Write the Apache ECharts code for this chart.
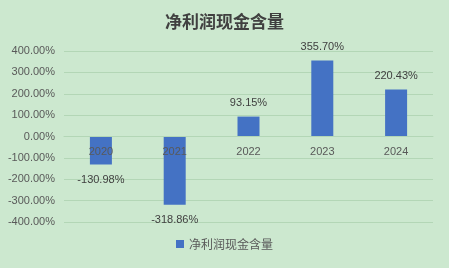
<!DOCTYPE html>
<html><head><meta charset="utf-8">
<script src="https://cdn.jsdelivr.net/npm/echarts@6/dist/echarts.min.js"></script>
<style>html,body{margin:0;padding:0;background:#cce8cf;}#c{width:449px;height:268px;}</style>
</head><body><div id="c"></div>
<script>
const categories = ['2020','2021','2022','2023','2024'];
const values = [-130.98, -318.86, 93.15, 355.70, 220.43];
const seriesName = '净利润现金含量';
const titleText = '净利润现金含量';

const gridTop = 51, gridBottom = 46, H = 268;
const plotH = H - gridTop - gridBottom;

const chart = echarts.init(document.getElementById('c'));
chart.setOption({
  backgroundColor: '#cce8cf',
  animation: false,
  title: {
    text: titleText, left: 'center', top: 8,
    textStyle: {fontFamily: '"Noto Sans CJK SC"', fontWeight: 'bold', fontSize: 17, color: '#404040'}
  },
  legend: {
    bottom: 13, left: 'center', icon: 'rect', itemWidth: 8, itemHeight: 8, itemGap: 4,
    textStyle: {fontFamily: '"Noto Sans CJK SC"', fontSize: 12, color: '#595959'},
    data: [seriesName]
  },
  grid: {left: 64, right: 16, top: gridTop, bottom: gridBottom},
  xAxis: {
    type: 'category', data: categories,
    position: 'bottom', offset: -plotH / 2,
    axisLine: {show: true, onZero: false, lineStyle: {color: '#b3d6b6'}},
    axisTick: {show: false},
    axisLabel: {margin: 10, fontSize: 11, color: '#595959', fontFamily: 'Liberation Sans'},
    z: 5
  },
  yAxis: {
    type: 'value', min: -400, max: 400, interval: 100,
    axisLine: {show: false}, axisTick: {show: false},
    splitLine: {lineStyle: {color: '#b3d6b6'}},
    axisLabel: {formatter: v => v.toFixed(2) + '%', fontSize: 11, color: '#595959', fontFamily: 'Liberation Sans', margin: 9}
  },
  series: [{
    name: seriesName, type: 'bar', barWidth: 22,
    data: values.map(v => ({value: v, label: {position: v < 0 ? 'bottom' : 'top', distance: v < 0 ? 10 : 8}})),
    itemStyle: {color: '#4472c4'},
    z: 2,
    label: {
      show: true, fontSize: 11, color: '#404040', fontFamily: 'Liberation Sans',
      formatter: p => p.value.toFixed(2) + '%'
    }
  }]
});
</script></body></html>
